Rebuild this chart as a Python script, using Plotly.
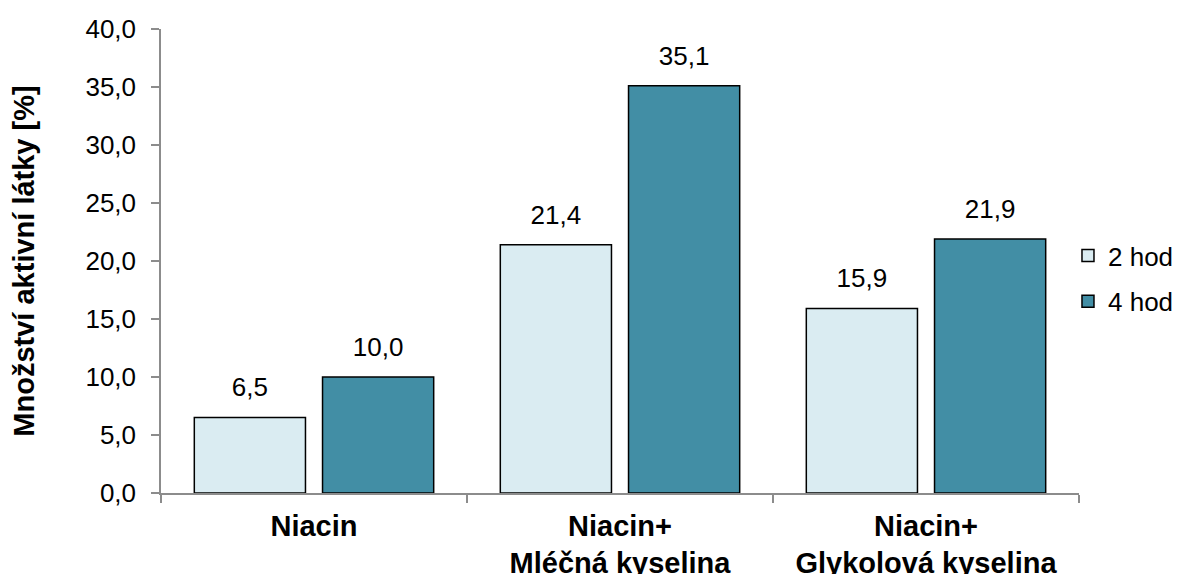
import plotly.graph_objects as go

categories = ["Niacin", "Niacin+<br>Mléčná kyselina", "Niacin+<br>Glykolová kyselina"]
hod2 = [6.5, 21.4, 15.9]
hod4 = [10.0, 35.1, 21.9]
y_ticks = [0, 5, 10, 15, 20, 25, 30, 35, 40]

FONT = "Liberation Sans, Arial, sans-serif"
AXIS_GRAY = "#8c8c8c"
series = [("2 hod", hod2, "#daecf2"), ("4 hod", hod4, "#428ea5")]


def fmt(v):
    return f"{v:.1f}".replace(".", ",")


fig = go.Figure()
for i, (name, vals, color) in enumerate(series):
    fig.add_trace(go.Bar(
        name=name, x=categories, y=vals, legendgroup=name,
        offsetgroup=str(i),
        marker=dict(color=color, line=dict(color="#000000", width=1.5)),
        hoverinfo="skip",
    ))
# value labels, grouped like the bars, sitting a bit above each bar
for i, (name, vals, color) in enumerate(series):
    fig.add_trace(go.Scatter(
        x=categories, y=vals, mode="markers+text", offsetgroup=str(i),
        text=[fmt(v) for v in vals], textposition="top center",
        textfont=dict(size=26, color="#000000"),
        marker=dict(size=22, opacity=0),
        showlegend=False, cliponaxis=False, hoverinfo="skip",
    ))

fig.update_layout(
    width=1173,
    height=566,
    barmode="group",
    scattermode="group",
    bargap=0.162,
    scattergap=0.162,
    bargroupgap=0.133,
    separators=", ",
    plot_bgcolor="white",
    paper_bgcolor="white",
    font=dict(family=FONT, size=26, color="#000000"),
    margin=dict(l=153, r=102, t=21, b=81, autoexpand=False),
    legend=dict(
        x=0.988, y=0.462, xanchor="left", yanchor="middle",
        font=dict(size=26), tracegroupgap=9, itemwidth=30,
    ),
)
fig.update_yaxes(
    range=[0, 40],
    tickvals=y_ticks,
    tickformat=".1f",
    showgrid=False,
    zeroline=False,
    showline=True,
    linecolor=AXIS_GRAY,
    linewidth=1.5,
    ticks="outside",
    ticklen=8,
    tickcolor=AXIS_GRAY,
    tickwidth=1.5,
    tickfont=dict(size=26),
    ticklabelstandoff=10,
    automargin=False,
    title=dict(text="<b>Množství aktivní látky [%]</b>", font=dict(size=29), standoff=45),
)
fig.update_xaxes(
    showgrid=False,
    showline=True,
    linecolor=AXIS_GRAY,
    linewidth=1.5,
    ticks="outside",
    tickson="boundaries",
    ticklen=8,
    tickcolor=AXIS_GRAY,
    tickwidth=1.5,
    tickfont=dict(size=29),
    ticklabelstandoff=6,
    automargin=False,
    tickvals=categories,
    ticktext=[f"<b>{c}</b>" for c in categories],
)

fig.write_html("out.html")
